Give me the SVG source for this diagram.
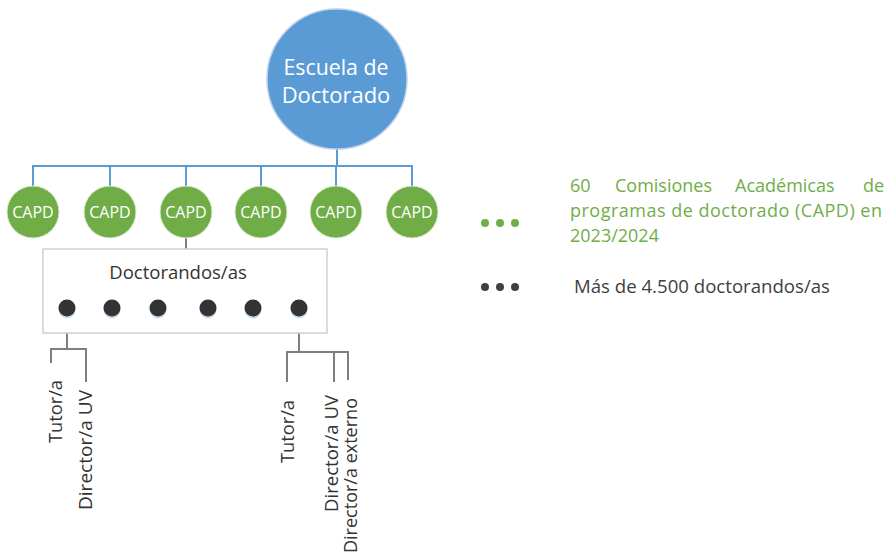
<svg xmlns="http://www.w3.org/2000/svg" width="885" height="556" viewBox="0 0 885 556">
<style>
.blue{stroke:#5B9BD5;stroke-width:2;fill:none}
.gray{stroke:#7F7F7F;stroke-width:2;fill:none}
.capd{fill:#70AD47;stroke:#dbe9d2;stroke-width:1}
.capdt{font-family:"Open Sans",sans-serif;font-size:16px;fill:#fff;text-anchor:middle}
.dot{fill:#333}
.sh{fill:#c5dcf0}
.lbl{font-family:"Open Sans",sans-serif;font-size:18.5px;fill:#333}
.grn{font-family:"Open Sans",sans-serif;font-size:18px;fill:#70AD47}
</style>
<rect width="885" height="556" fill="#fff"/>
<g id="connectors">
<path class="blue" d="M337 148V166M33 186V166H412V186M110 166V186M186 166V186M261 166V186M336 166V186"/>
<path class="gray" d="M186 238V249"/>
<path class="gray" d="M67 308V349M51 363V349H86V382"/>
<path class="gray" d="M299 308V352M287 382V352H348V380M334 352V382"/>
</g>
<g id="escuela">
<circle cx="337" cy="79" r="70" fill="#5B9BD5" stroke="#b7d0ec" stroke-width="1.5"/>
<text x="336" y="75" font-family="Open Sans, sans-serif" font-size="22" fill="#fff" text-anchor="middle" textLength="105" lengthAdjust="spacingAndGlyphs">Escuela de</text>
<text x="336" y="103" font-family="Open Sans, sans-serif" font-size="22" fill="#fff" text-anchor="middle">Doctorado</text>
</g>
<g id="capd1"><circle class="capd" cx="33" cy="212" r="26"/><text class="capdt" x="33" y="218">CAPD</text></g>
<g id="capd2"><circle class="capd" cx="110" cy="212" r="26"/><text class="capdt" x="110" y="218">CAPD</text></g>
<g id="capd3"><circle class="capd" cx="186" cy="212" r="26"/><text class="capdt" x="186" y="218">CAPD</text></g>
<g id="capd4"><circle class="capd" cx="261" cy="212" r="26"/><text class="capdt" x="261" y="218">CAPD</text></g>
<g id="capd5"><circle class="capd" cx="336" cy="212" r="26"/><text class="capdt" x="336" y="218">CAPD</text></g>
<g id="capd6"><circle class="capd" cx="412" cy="212" r="26"/><text class="capdt" x="412" y="218">CAPD</text></g>
<g id="doctorandos">
<rect x="43" y="249" width="284" height="84" fill="#fff" stroke="#d0d0d0" stroke-width="1.5"/>
<text x="178" y="279" font-family="Open Sans, sans-serif" font-size="18.5" fill="#333" text-anchor="middle">Doctorandos/as</text>
<circle class="sh" cx="67" cy="310" r="8.5"/><circle class="dot" cx="67" cy="308" r="8.5"/>
<circle class="sh" cx="112" cy="310" r="8.5"/><circle class="dot" cx="112" cy="308" r="8.5"/>
<circle class="sh" cx="158" cy="310" r="8.5"/><circle class="dot" cx="158" cy="308" r="8.5"/>
<circle class="sh" cx="208" cy="310" r="8.5"/><circle class="dot" cx="208" cy="308" r="8.5"/>
<circle class="sh" cx="253" cy="310" r="8.5"/><circle class="dot" cx="253" cy="308" r="8.5"/>
<circle class="sh" cx="299" cy="310" r="8.5"/><circle class="dot" cx="299" cy="308" r="8.5"/>
</g>
<g id="labels-left">
<text class="lbl" transform="translate(62,380) rotate(-90)" text-anchor="end" textLength="63" lengthAdjust="spacingAndGlyphs">Tutor/a</text>
<text class="lbl" transform="translate(92,390) rotate(-90)" text-anchor="end" textLength="120" lengthAdjust="spacingAndGlyphs">Director/a UV</text>
</g>
<g id="labels-right">
<text class="lbl" transform="translate(294,400) rotate(-90)" text-anchor="end" textLength="63" lengthAdjust="spacingAndGlyphs">Tutor/a</text>
<text class="lbl" transform="translate(338,395) rotate(-90)" text-anchor="end" textLength="117" lengthAdjust="spacingAndGlyphs">Director/a UV</text>
<text class="lbl" transform="translate(357,398) rotate(-90)" text-anchor="end" textLength="155" lengthAdjust="spacingAndGlyphs">Director/a externo</text>
</g>
<g id="legend">
<circle cx="485" cy="223" r="4" fill="#70AD47"/><circle cx="500" cy="223" r="4" fill="#70AD47"/><circle cx="515" cy="223" r="4" fill="#70AD47"/>
<text class="grn" x="570" y="192">60</text>
<text class="grn" x="615" y="192">Comisiones</text>
<text class="grn" x="735" y="192">Académicas</text>
<text class="grn" x="884" y="192" text-anchor="end">de</text>
<text class="grn" x="570" y="217" textLength="312" lengthAdjust="spacing">programas de doctorado (CAPD) en</text>
<text class="grn" x="570" y="242">2023/2024</text>
<circle cx="485" cy="287" r="4" fill="#404040"/><circle cx="500" cy="287" r="4" fill="#404040"/><circle cx="515" cy="287" r="4" fill="#404040"/>
<text x="574" y="293" font-family="Open Sans, sans-serif" font-size="18.5" fill="#404040" textLength="256" lengthAdjust="spacingAndGlyphs">Más de 4.500 doctorandos/as</text>
</g>
</svg>
